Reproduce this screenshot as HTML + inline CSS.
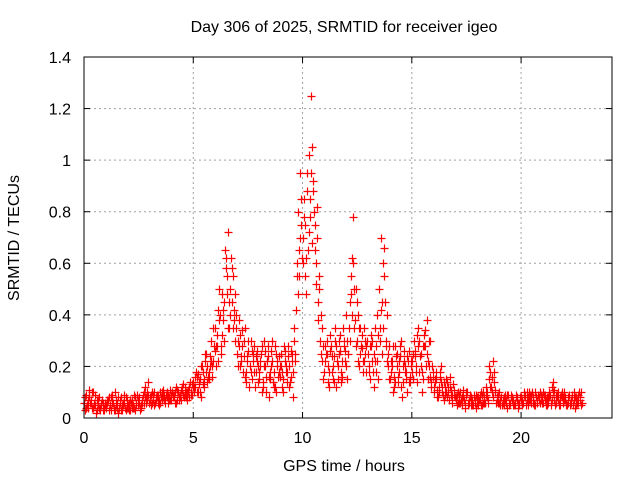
<!DOCTYPE html>
<html><head><meta charset="utf-8"><style>
body{margin:0;background:#fff;}
svg{display:block;font-family:"Liberation Sans",sans-serif;}
</style></head><body>
<svg id="chart" width="640" height="480">
<text x="344" y="32" font-size="16" text-anchor="middle">Day 306 of 2025, SRMTID for receiver igeo</text>
<text x="344" y="471" font-size="16" text-anchor="middle">GPS time / hours</text>
<text x="19" y="238" font-size="16" text-anchor="middle" transform="rotate(-90 19 238)">SRMTID / TECUs</text>
<g id="grid"></g><g id="marks"></g><g id="axes"></g>
</svg>
<script>
const xTicks=[0,5,10,15,20];
const yTicks=[0,0.2,0.4,0.6,0.8,1,1.2,1.4];
const yTickLabels=["0","0.2","0.4","0.6","0.8","1","1.2","1.4"];
const timeStep=0.1;
const valsA=[.06,.09,.04,.07,.10,.05,.03,.08,.05,.03,
.04,.07,.05,.09,.03,.06,.04,.08,.05,.03,
.05,.03,.07,.04,.06,.08,.05,.09,.12,.07,
.08,.06,.10,.07,.09,.06,.08,.07,.10,.08,
.07,.09,.06,.10,.08,.11,.09,.07,.12,.10,
.14,.12,.17,.10,.20,.15,.25,.18,.30,.22,
.35,.28,.50,.32,.45,.62,.72,.40,.55,.30,
.25,.38,.22,.30,.18,.26,.20,.15,.28,.22,
.18,.25,.12,.20,.28,.15,.22,.18,.10,.24,
.20,.15,.26,.18,.12,.22,.30,.42,.80,.95,
.70,.55,.88,1.02,1.25,.92,.60,.45,.30,.22,
.18,.25,.12,.28,.20,.35,.15,.26,.22,.30,
.40,.25,.55,.78,.38,.30,.20,.27,.35,.18,
.25,.15,.30,.22,.40,.50,.70,.35,.28,.20,
.15,.22,.12,.25,.18,.30,.14,.20,.10,.16,
.22,.30,.18,.35,.25,.15,.28,.38,.20,.12,
.10,.15,.08,.18,.12,.09,.14,.07,.11,.13,
.08,.06,.10,.05,.07,.09,.06,.08,.05,.07,
.06,.09,.05,.08,.12,.06,.18,.22,.10,.07,
.06,.08,.05,.07,.09,.06,.08,.05,.07,.06,
.08,.06,.09,.05,.07,.10,.06,.08,.07,.09,
.06,.09,.05,.08,.12,.07,.06,.10,.05,.08,
.07,.05,.09,.06,.10,.08,.06,.07];
const valsB=[.03,.05,.08,.04,.06,.02,.07,.04,.06,.05,
.06,.03,.08,.04,.07,.02,.06,.05,.09,.04,
.03,.06,.04,.08,.05,.03,.07,.06,.08,.14,
.05,.09,.06,.08,.05,.10,.07,.09,.06,.11,
.09,.06,.11,.08,.07,.13,.08,.10,.14,.09,
.10,.16,.13,.08,.18,.22,.14,.20,.16,.28,
.20,.42,.25,.38,.65,.48,.35,.58,.42,.35,
.30,.20,.34,.16,.24,.12,.30,.25,.18,.14,
.22,.10,.30,.16,.08,.26,.14,.28,.20,.16,
.12,.28,.18,.24,.16,.08,.25,.60,.55,.75,
.85,.48,.65,.78,1.05,.75,.82,.50,.40,.15,
.28,.14,.32,.18,.24,.12,.30,.18,.35,.22,
.15,.45,.62,.35,.50,.22,.35,.18,.25,.30,
.18,.32,.12,.28,.15,.35,.25,.66,.40,.15,
.22,.10,.28,.16,.24,.08,.22,.15,.26,.20,
.15,.24,.32,.18,.10,.28,.20,.15,.30,.18,
.14,.08,.12,.20,.07,.15,.10,.12,.06,.09,
.05,.09,.07,.11,.04,.06,.08,.05,.09,.04,
.08,.05,.10,.06,.08,.15,.10,.14,.06,.09,
.05,.07,.09,.04,.06,.08,.05,.09,.04,.08,
.05,.09,.07,.10,.06,.08,.05,.07,.10,.06,
.09,.05,.08,.06,.14,.05,.09,.06,.08,.10,
.05,.08,.06,.09,.04,.07,.10,.05];
const valsC=[.08,.05,.11,.06,.04,.09,.05,.03,.07,.04,
.05,.08,.03,.06,.10,.04,.07,.03,.06,.08,
.04,.07,.05,.03,.09,.06,.04,.10,.06,.09,
.07,.10,.05,.09,.07,.08,.11,.06,.09,.07,
.10,.08,.12,.07,.11,.09,.12,.10,.08,.13,
.12,.18,.10,.15,.13,.25,.20,.15,.22,.35,
.28,.22,.40,.48,.30,.55,.45,.62,.35,.48,
.20,.32,.28,.24,.14,.30,.18,.22,.12,.26,
.15,.28,.20,.10,.24,.18,.30,.12,.22,.18,
.25,.10,.20,.28,.14,.25,.35,.55,.65,.85,
.60,.75,.95,.85,.68,.80,.52,.38,.25,.28,
.22,.30,.18,.24,.14,.28,.20,.32,.16,.26,
.30,.35,.48,.60,.28,.40,.25,.32,.22,.28,
.20,.28,.18,.35,.22,.30,.45,.55,.30,.25,
.18,.28,.14,.20,.22,.12,.26,.18,.22,.14,
.18,.26,.14,.30,.20,.28,.34,.22,.16,.20,
.12,.18,.10,.14,.09,.12,.08,.16,.09,.11,
.07,.10,.06,.08,.06,.10,.07,.05,.08,.09,
.05,.07,.09,.06,.10,.20,.12,.08,.11,.06,
.07,.05,.08,.06,.05,.09,.07,.06,.08,.05,
.07,.10,.05,.08,.09,.06,.10,.06,.08,.07,
.10,.07,.06,.09,.07,.11,.08,.05,.09,.06,
.08,.06,.05,.08,.07,.05,.09,.10];
const valsD=[.04,.07,.06,.10,.05,.07,.04,.06,.03,.06,
.07,.05,.06,.03,.05,.08,.03,.06,.04,.07,
.06,.04,.09,.05,.07,.04,.06,.08,.10,.06,
.09,.07,.08,.06,.10,.07,.09,.08,.07,.09,
.08,.10,.07,.09,.12,.08,.10,.11,.09,.12,
.16,.10,.14,.20,.12,.18,.16,.24,.20,.26,
.32,.38,.28,.42,.58,.35,.50,.45,.38,.40,
.28,.24,.18,.35,.22,.20,.26,.18,.24,.20,
.20,.14,.26,.22,.16,.20,.12,.25,.16,.20,
.18,.22,.14,.20,.26,.18,.22,.48,.70,.62,
.78,.62,.72,.95,.88,.65,.70,.55,.35,.18,
.25,.20,.26,.15,.30,.22,.25,.14,.28,.20,
.25,.30,.40,.50,.45,.35,.28,.22,.30,.25,
.28,.22,.25,.18,.32,.42,.60,.45,.22,.28,
.20,.16,.24,.14,.28,.20,.18,.24,.14,.22,
.25,.20,.28,.24,.18,.32,.25,.30,.14,.16,
.15,.11,.16,.10,.14,.10,.12,.09,.13,.08,
.09,.06,.08,.07,.10,.05,.09,.07,.06,.08,
.07,.10,.06,.09,.07,.12,.16,.18,.08,.10,
.08,.06,.07,.09,.06,.07,.05,.08,.06,.07,
.06,.08,.10,.07,.09,.05,.08,.09,.06,.08,
.07,.08,.10,.05,.10,.09,.07,.08,.10,.07,
.06,.09,.07,.05,.08,.06,.08,.06];
const L=84,R=612,T=57,B=418,XMAX=24.16,YMAX=1.4;
const xs=t=>L+t/XMAX*(R-L);
const ys=v=>B-v/YMAX*(B-T);
const NS="http://www.w3.org/2000/svg";
function mk(tag,attrs,parent){const e=document.createElementNS(NS,tag);for(const k in attrs)e.setAttribute(k,attrs[k]);parent.appendChild(e);return e;}
const grid=document.getElementById('grid'),axes=document.getElementById('axes'),marks=document.getElementById('marks');
xTicks.forEach((t,i)=>{const x=xs(t);
 if(t>0){const g=mk('line',{x1:x,x2:x,y1:T,y2:B,stroke:'#a0a0a0','stroke-dasharray':'2,3'},grid);
 
 }
 mk('line',{x1:x,x2:x,y1:B,y2:B-6,stroke:'#000'},axes);
 mk('line',{x1:x,x2:x,y1:T,y2:T+6,stroke:'#000'},axes);
 const tx=mk('text',{x:x,y:B+25,'font-size':16,'text-anchor':'middle'},axes);tx.textContent=String(t);
 
 });
yTicks.forEach((v,i)=>{const y=ys(v);
 if(v>0&&v<YMAX){const g=mk('line',{x1:L,x2:R,y1:y,y2:y,stroke:'#a0a0a0','stroke-dasharray':'2,3'},grid);
 
 }
 mk('line',{x1:L,x2:L+6,y1:y,y2:y,stroke:'#000'},axes);
 mk('line',{x1:R,x2:R-6,y1:y,y2:y,stroke:'#000'},axes);
 const tx=mk('text',{x:71,y:y+6,'font-size':16,'text-anchor':'end'},axes);tx.textContent=yTickLabels[i];
 
 });
const fr=mk('rect',{x:L,y:T,width:R-L,height:B-T,fill:'none',stroke:'#000'},axes);


let d='';
function plus(t,v){const x=Math.round(xs(t))+0.5,y=Math.round(ys(v))+0.5;d+=`M${x-4} ${y}h8M${x} ${y-4}v8`;}
valsA.forEach((v,i)=>plus(i*timeStep,v));
valsC.forEach((v,i)=>plus(i*timeStep+timeStep/4,v));
valsB.forEach((v,i)=>plus(i*timeStep+timeStep/2,v));
valsD.forEach((v,i)=>plus(i*timeStep+3*timeStep/4,v));
const p=mk('path',{d:d,stroke:'#ff0000','stroke-width':1.2,fill:'none'},marks);


</script>
</body></html>
